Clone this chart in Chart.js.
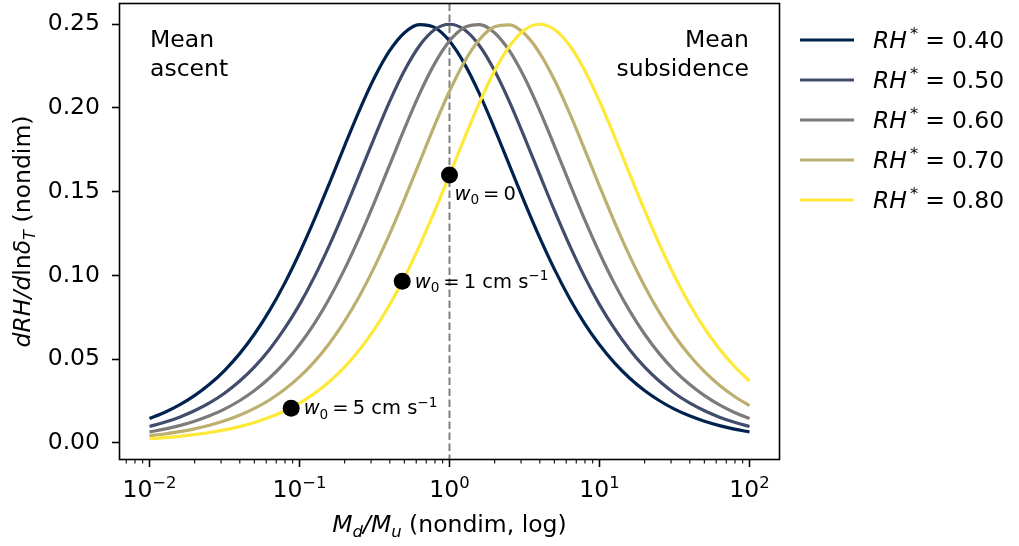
<!DOCTYPE html>
<html>
<head>
<meta charset="utf-8">
<script src="https://cdn.jsdelivr.net/npm/chart.js@4.4.0/dist/chart.umd.min.js"></script>
<style>
html,body{margin:0;padding:0;background:#fff}
#wrap{width:1019px;height:546px}
</style>
</head>
<body>
<div id="wrap"><canvas id="chart" width="1019" height="546"></canvas></div>
<script>
// M_d/M_u sample points (log spaced, 10 per decade)
const ratio = [0.01,0.01259,0.01585,0.01995,0.02512,0.03162,0.03981,0.05012,0.0631,0.07943,
0.1,0.1259,0.1585,0.1995,0.2512,0.3162,0.3981,0.5012,0.631,0.7943,
1,1.259,1.585,1.995,2.512,3.162,3.981,5.012,6.31,7.943,
10,12.59,15.85,19.95,25.12,31.62,39.81,50.12,63.1,79.43,100]

const rh40 = [0.01456,0.01819,0.02268,0.02821,0.03499,0.04324,0.05318,0.06503,0.07899,0.09513,0.11342,0.13361,0.15518,0.17729,0.19877,0.21822,0.23410,0.24498,0.24981,0.24809,0.24,0.22635,0.20842,0.18772,0.16575,0.14380,0.12286,0.10362,0.08643,0.07143,0.05859,0.04776,0.03874,0.03129,0.02519,0.02022,0.01620,0.01295,0.01035,0.00825,0.00658]
const rh50 = [0.0098,0.0123,0.0154,0.0192,0.0239,0.0297,0.0368,0.0454,0.0558,0.0682,0.0826,0.0993,0.1181,0.1387,0.1605,0.1825,0.2037,0.2224,0.2372,0.2467,0.25,0.2467,0.2372,0.2224,0.2037,0.1825,0.1605,0.1387,0.1181,0.0993,0.0826,0.0682,0.0558,0.0454,0.0368,0.0297,0.0239,0.0192,0.0154,0.0123,0.0098]
const rh60 = [0.00658,0.00825,0.01035,0.01295,0.01620,0.02022,0.02519,0.03129,0.03874,0.04776,0.05859,0.07143,0.08643,0.10362,0.12286,0.14380,0.16575,0.18772,0.20842,0.22635,0.24,0.24809,0.24981,0.24498,0.23410,0.21822,0.19877,0.17729,0.15518,0.13361,0.11342,0.09513,0.07899,0.06503,0.05318,0.04324,0.03499,0.02821,0.02268,0.01819,0.01456]
const rh70 = [0.00425,0.00534,0.00670,0.00841,0.01054,0.01319,0.01649,0.02059,0.02564,0.03184,0.03941,0.04857,0.05956,0.07257,0.08774,0.10511,0.12451,0.14555,0.16755,0.18947,0.21,0.22764,0.24088,0.24847,0.24966,0.24431,0.23298,0.21676,0.19709,0.17550,0.15340,0.13191,0.11186,0.09374,0.07777,0.06399,0.05230,0.04251,0.03439,0.02772,0.02228]
const rh80 = [0.00249,0.00313,0.00393,0.00494,0.00620,0.00778,0.00976,0.01222,0.01529,0.01909,0.02380,0.02958,0.03666,0.04525,0.05560,0.06790,0.08232,0.09895,0.11768,0.13823,0.16,0.18208,0.20325,0.22205,0.23694,0.24658,0.25,0.24685,0.23745,0.22275,0.20408,0.18298,0.16091,0.13911,0.11850,0.09968,0.08297,0.06845,0.05606,0.04564,0.03698]

const seriesNames = ["0.40","0.50","0.60","0.70","0.80"]
const seriesColors = ["#00224e","#414d6b","#7c7b78","#bcaf6f","#fee838"]

// w0 markers on the RH*=0.80 curve
const markerX = [1, 0.484, 0.088]
const markerY = [0.16, 0.0965, 0.0207]
const markerText = ["0", "1", "5"]

const yTicks = [0, 0.05, 0.10, 0.15, 0.20, 0.25]
const xMajor = [0.01, 0.1, 1, 10, 100]
const xMajorExp = ["\u22122", "\u22121", "0", "1", "2"]

const FONT = "'DejaVu Sans'"
const FS = 23.5

// draw a run of text pieces, some italic / sub / sup
function rich(ctx, parts, x, y, size, align){
let w = 0
const items = parts.map(p=>{
if(typeof p === "number"){ w += p; return {gap:p} }
const fs = (p.sub || p.sup) ? size*0.7 : size
const font = (p.i ? "italic " : "") + fs + "px " + FONT
ctx.font = font
const tw = ctx.measureText(p.t).width
w += tw
return {t:p.t, font, tw, dy: p.sub ? size*0.22 : p.sup ? -size*0.38 : 0}
})
let cx = align === "center" ? x - w/2 : align === "right" ? x - w : x
ctx.textAlign = "left"
ctx.textBaseline = "alphabetic"
items.forEach(it=>{
if(it.gap !== undefined){ cx += it.gap; return }
ctx.font = it.font
ctx.fillText(it.t, cx, y + it.dy)
cx += it.tw
})
}

const decorPlugin = {
id:"decor",
beforeDatasetsDraw(chart){
const ctx = chart.ctx
const xs = chart.scales.x
const a = chart.chartArea
const px = xs.getPixelForValue(1)
ctx.save()
ctx.strokeStyle = "#808080"
ctx.lineWidth = 2
ctx.setLineDash([7.5,3.5])
ctx.beginPath()
ctx.moveTo(px, a.top)
ctx.lineTo(px, a.bottom)
ctx.stroke()
ctx.restore()
},
afterDraw(chart){
const ctx = chart.ctx
const xs = chart.scales.x
const ys = chart.scales.y
const a = chart.chartArea
ctx.save()
ctx.fillStyle = "#000"
ctx.strokeStyle = "#000"

// axes box
ctx.lineWidth = 1.6
ctx.strokeRect(a.left, a.top, a.right - a.left, a.bottom - a.top)

// x ticks, major and minor
ctx.lineWidth = 1.6
xMajor.forEach((v,i)=>{
const px = xs.getPixelForValue(v)
ctx.beginPath(); ctx.moveTo(px, a.bottom); ctx.lineTo(px, a.bottom + 7.5); ctx.stroke()
// label 10^e
ctx.font = FS + "px " + FONT
const bw = ctx.measureText("10").width
ctx.font = (FS*0.7) + "px " + FONT
const ew = ctx.measureText(xMajorExp[i]).width
const left = px - (bw + ew)/2
ctx.textAlign = "left"
ctx.textBaseline = "alphabetic"
ctx.font = FS + "px " + FONT
ctx.fillText("10", left, 497)
ctx.font = (FS*0.7) + "px " + FONT
ctx.fillText(xMajorExp[i], left + bw, 488)
})
ctx.lineWidth = 1.1
for(let e = -3; e <= 2; e++){
for(let d = 2; d <= 9; d++){
const v = d * Math.pow(10, e)
if(v < xs.min || v > xs.max) continue
const px = xs.getPixelForValue(v)
ctx.beginPath(); ctx.moveTo(px, a.bottom); ctx.lineTo(px, a.bottom + 4); ctx.stroke()
}
}

// region notes
ctx.font = FS + "px " + FONT
ctx.textAlign = "left"
ctx.fillText("Mean", 150, 47)
ctx.fillText("ascent", 150, 75.5)
ctx.textAlign = "right"
ctx.fillText("Mean", 749, 47)
ctx.fillText("subsidence", 749, 75.5)

// w0 labels next to markers
const af = 19.5
const offs = [[5,25],[12.5,6.5],[12.5,6]]
markerX.forEach((v,i)=>{
const px = xs.getPixelForValue(v) + offs[i][0]
const py = ys.getPixelForValue(markerY[i]) + offs[i][1]
const parts = [{t:"w", i:true},{t:"0", sub:true},4,{t:"="},4,{t:markerText[i]}]
if(i > 0){ parts.push({t:" cm s"}); parts.push({t:"\u22121", sup:true}) }
rich(ctx, parts, px, py, af, "left")
})

// axis titles
rich(ctx, [{t:"M", i:true},{t:"d", i:true, sub:true},{t:"/", i:true},{t:"M", i:true},{t:"u", i:true, sub:true},{t:" (nondim, log)"}], (a.left + a.right)/2, 532, FS, "center")
ctx.save()
ctx.translate(30, (a.top + a.bottom)/2)
ctx.rotate(-Math.PI/2)
rich(ctx, [{t:"dRH/d", i:true},{t:"ln"},{t:"\u03b4", i:true},{t:"T", i:true, sub:true},{t:" (nondim)"}], 0, 0, FS, "center")
ctx.restore()

// legend
seriesNames.forEach((n,i)=>{
const ly = 40 + i*40
ctx.strokeStyle = seriesColors[i]
ctx.lineWidth = 3.2
ctx.beginPath(); ctx.moveTo(800, ly); ctx.lineTo(854, ly); ctx.stroke()
ctx.fillStyle = "#000"
rich(ctx, [{t:"RH", i:true},3,{t:"*", sup:true},7,{t:"="},7,{t:n}], 873, ly + 8, FS, "left")
})
ctx.restore()
}
}

const allSeries = [rh40, rh50, rh60, rh70, rh80]

const datasets = allSeries.map((s,i)=>({
label: "RH* = " + seriesNames[i],
data: ratio.map((x,j)=>({x:x, y:s[j]})),
borderColor: seriesColors[i],
borderWidth: 3.2,
pointRadius: 0,
fill: false,
cubicInterpolationMode: "monotone",
order: 6 - i
}))

datasets.push({
type: "scatter",
label: "w0",
data: markerX.map((x,j)=>({x:x, y:markerY[j]})),
backgroundColor: "#000",
borderWidth: 0,
pointRadius: 8.5,
order: 0
})

new Chart(document.getElementById("chart"),{
type: "line",
data: { datasets: datasets },
plugins: [decorPlugin],
options: {
responsive: false,
animation: false,
layout: { autoPadding: false, padding: { top: 3.5, right: 239.5, bottom: 0, left: 0 } },
plugins: { legend: { display: false }, tooltip: { enabled: false } },
scales: {
x: {
type: "logarithmic",
min: 0.00631,
max: 158.5,
ticks: { display: false },
grid: { display: false },
border: { display: false },
afterFit: s => { s.height = 86.5; s.paddingLeft = 0; s.paddingRight = 0 }
},
y: {
type: "linear",
min: -0.0099,
max: 0.2624,
afterBuildTicks: s => { s.ticks = yTicks.map(v=>({value:v})) },
ticks: {
callback: v => Number(v).toFixed(2),
font: { family: "DejaVu Sans", size: FS },
color: "#000",
padding: 12
},
grid: { drawOnChartArea: false, drawTicks: true, tickLength: 7.5, tickColor: "#000", tickWidth: 1.6 },
border: { display: false },
afterFit: s => { s.width = 119.5; s.paddingTop = 0; s.paddingBottom = 0 }
}
}
}
})
</script>
</body>
</html>
